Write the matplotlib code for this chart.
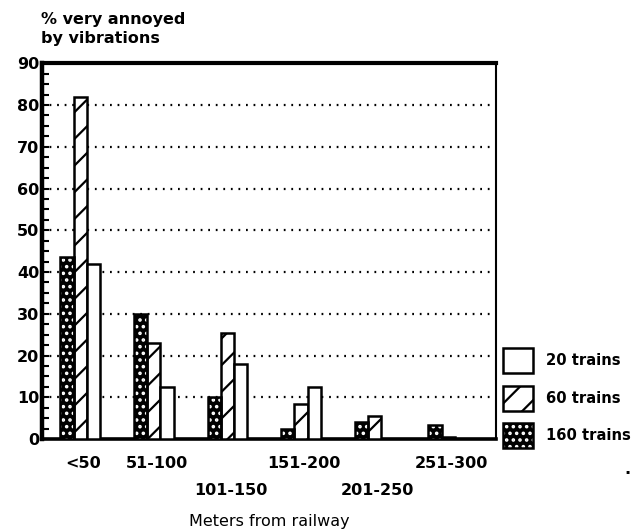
import numpy as np
import matplotlib
matplotlib.use('Agg')
import matplotlib.pyplot as plt
from matplotlib.patches import Patch
from matplotlib.legend_handler import HandlerTuple

#  drawn at 80 dpi so the hatch spacing matches; S converts 100-dpi sizes
DPI = 80
S = 100 / DPI

plt.rcParams['font.family'] = ['DejaVu Sans']
plt.rcParams['font.weight'] = 'bold'
plt.rcParams['hatch.linewidth'] = 1.6 * S

#  Data
categories = ['<50', '51-100', '101-150', '151-200', '201-250', '251-300']
label_row = [0, 0, 1, 0, 1, 0]
pct_160 = [43.5, 30, 10, 2.5, 4, 3.5]
pct_60 = [82, 23, 25.5, 8.5, 5.5, 0.5]
pct_20 = [42, 12.5, 18, 12.5, 0, 0]
series_labels = ['20 trains', '60 trains', '160 trains']
y_ticks = np.arange(0, 100, 10)

fs = 11.5 * S
fs_leg = 10.6 * S

fig = plt.figure(figsize=(636 / DPI, 531 / DPI), dpi=DPI)
ax = fig.add_axes([0.066, 0.173, 0.714, 0.708])

x = np.arange(len(categories))
w = 0.18
lw = 1.8 * S

#  160 trains: black with white dots, then a black outline on top
ax.bar(x - w, pct_160, w, color='black', edgecolor='white', hatch='..',
       linewidth=0, zorder=3)
ax.bar(x - w, pct_160, w, fill=False, edgecolor='black', linewidth=lw, zorder=4)
#  60 trains: diagonal hatch
ax.bar(x, pct_60, w, color='white', edgecolor='black', hatch='/',
       linewidth=lw, zorder=3)
#  20 trains: plain white
ax.bar(x + w, pct_20, w, color='white', edgecolor='black', linewidth=lw, zorder=3)

ax.set_xlim(-0.52, 5.65)
ax.set_ylim(0, 90)

#  dotted gridlines
for yv in y_ticks[1:-1]:
    ax.axhline(yv, color='black', lw=1.6 * S, linestyle=(0, (0.8, 2.6)), zorder=1)

ax.set_yticks(y_ticks)
ax.set_yticks(np.arange(0, 90, 2.5), minor=True)
ax.tick_params(axis='y', which='both', direction='in', length=5 * S,
               width=1.5 * S, labelsize=fs, pad=2 * S)

#  category labels sit on two rows
tick_labels = ['\n' * r + c for c, r in zip(categories, label_row)]
ax.set_xticks(x + 0.04)
ax.set_xticklabels(tick_labels)
ax.tick_params(axis='x', length=0, labelsize=fs, pad=12 * S)
for t in ax.get_xticklabels():
    t.set_linespacing(2.0)

ax.spines['left'].set_linewidth(3.2 * S)
ax.spines['top'].set_linewidth(3.0 * S)
ax.spines['bottom'].set_linewidth(2.6 * S)
ax.spines['right'].set_linewidth(1.5 * S)

ax.set_xlabel('Meters from railway', fontsize=fs, labelpad=12 * S)

fig.text(0.064, 0.977, '% very annoyed\nby vibrations', fontsize=fs,
         ha='left', va='top', linespacing=1.3)

#  legend
h20 = Patch(facecolor='white', edgecolor='black', linewidth=lw)
h60 = Patch(facecolor='white', edgecolor='black', hatch='/', linewidth=lw)
h160a = Patch(facecolor='black', edgecolor='white', hatch='..', linewidth=0)
h160b = Patch(fill=False, edgecolor='black', linewidth=lw)
fig.legend([h20, h60, (h160a, h160b)], series_labels,
           handler_map={tuple: HandlerTuple(ndivide=1, pad=0)},
           loc='upper left', bbox_to_anchor=(503 / 636, 1 - 348 / 531),
           frameon=False, fontsize=fs_leg, handlelength=2.05, handleheight=2.24,
           handletextpad=0.85, labelspacing=0.85, borderpad=0, borderaxespad=0)

fig.text(627 / 636, 1 - 470 / 531, '.', fontsize=fs, ha='center', va='center')

fig.savefig('out.png', dpi=DPI)
